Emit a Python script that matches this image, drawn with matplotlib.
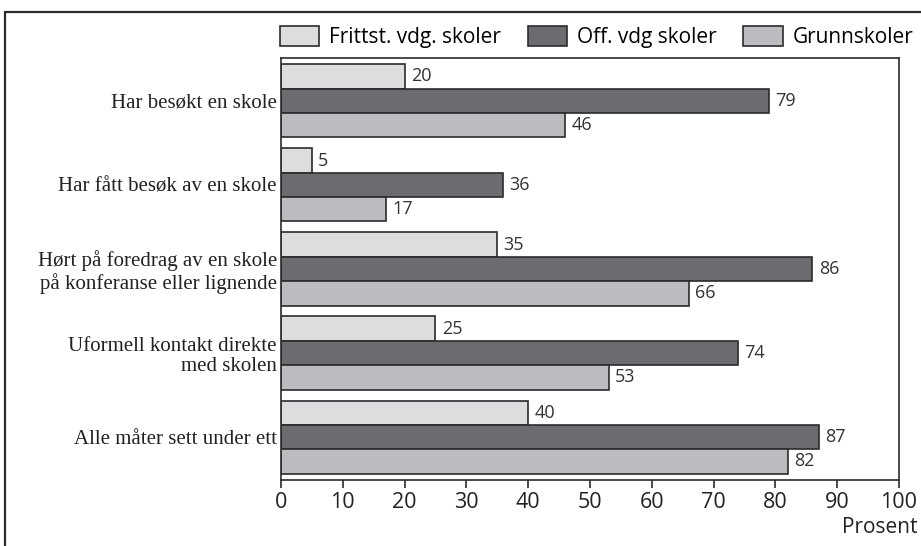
import numpy as np
import matplotlib
matplotlib.use("Agg")
import matplotlib.pyplot as plt
from matplotlib.patches import Patch, Rectangle

# data
categories = [
    "Har besøkt en skole",
    "Har fått besøk av en skole",
    "Hørt på foredrag av en skole\npå konferanse eller lignende",
    "Uformell kontakt direkte\nmed skolen",
    "Alle måter sett under ett",
]
series_names = ["Frittst. vdg. skoler", "Off. vdg skoler", "Grunnskoler"]
frittst = [20, 5, 35, 25, 40]
off_vdg = [79, 36, 86, 74, 87]
grunn = [46, 17, 66, 53, 82]
xticks = list(range(0, 101, 10))

colors = ["#dcdddf", "#6b6c70", "#bbbcc0"]
edge = "#2b2b2b"
sans = ["Open Sans", "DejaVu Sans"]
serif = ["Liberation Serif", "DejaVu Serif"]

fig = plt.figure(figsize=(9.21, 5.46), dpi=100)
ax = fig.add_axes([0.3051, 0.1209, 0.671, 0.7729])

y = np.arange(len(categories))
h = 0.29
for k, vals in enumerate([frittst, off_vdg, grunn]):
    pos = y + (k - 1) * h
    ax.barh(pos, vals, height=h, color=colors[k], edgecolor=edge, linewidth=1.2)
    for p, v in zip(pos, vals):
        ax.text(v + 1.0, p, str(v), va="center", ha="left",
                fontsize=13, color="#333333", family=sans)

ax.set_xlim(0, 100)
ax.set_ylim(len(categories) - 0.49, -0.51)
ax.set_xticks(xticks)
ax.set_xticklabels([str(t) for t in xticks], fontsize=15.5, family=sans, color="#222222")
ax.set_yticks(y)
ax.set_yticklabels(categories, fontsize=15, family=serif, color="#222222",
                   linespacing=1.1)
ax.tick_params(axis="y", length=0, pad=3)
ax.tick_params(axis="x", length=6, width=1.2, direction="out", pad=3, color=edge)
for s in ax.spines.values():
    s.set_linewidth(1.2)
    s.set_color(edge)

fig.text(0.9957, 0.033, "Prosent", ha="right", va="center",
         fontsize=15, family=sans, color="#222222")

handles = [Patch(facecolor=c, edgecolor=edge, linewidth=1.2) for c in colors]
fig.legend(handles, series_names, loc="center", ncol=3, frameon=False,
           bbox_to_anchor=(0.6477, 0.933), prop={"family": sans, "size": 15},
           handlelength=1.9, handleheight=1.1, handletextpad=0.45,
           columnspacing=1.3, borderaxespad=0, borderpad=0)

# outer frame of the figure box (cut by the image edges)
fig.patches.append(Rectangle((5 / 921, -0.05), 1.2, 1 - 12 / 546 + 0.05,
                             transform=fig.transFigure, fill=False,
                             edgecolor=edge, linewidth=1.6))

fig.savefig("out.png", dpi=100)
